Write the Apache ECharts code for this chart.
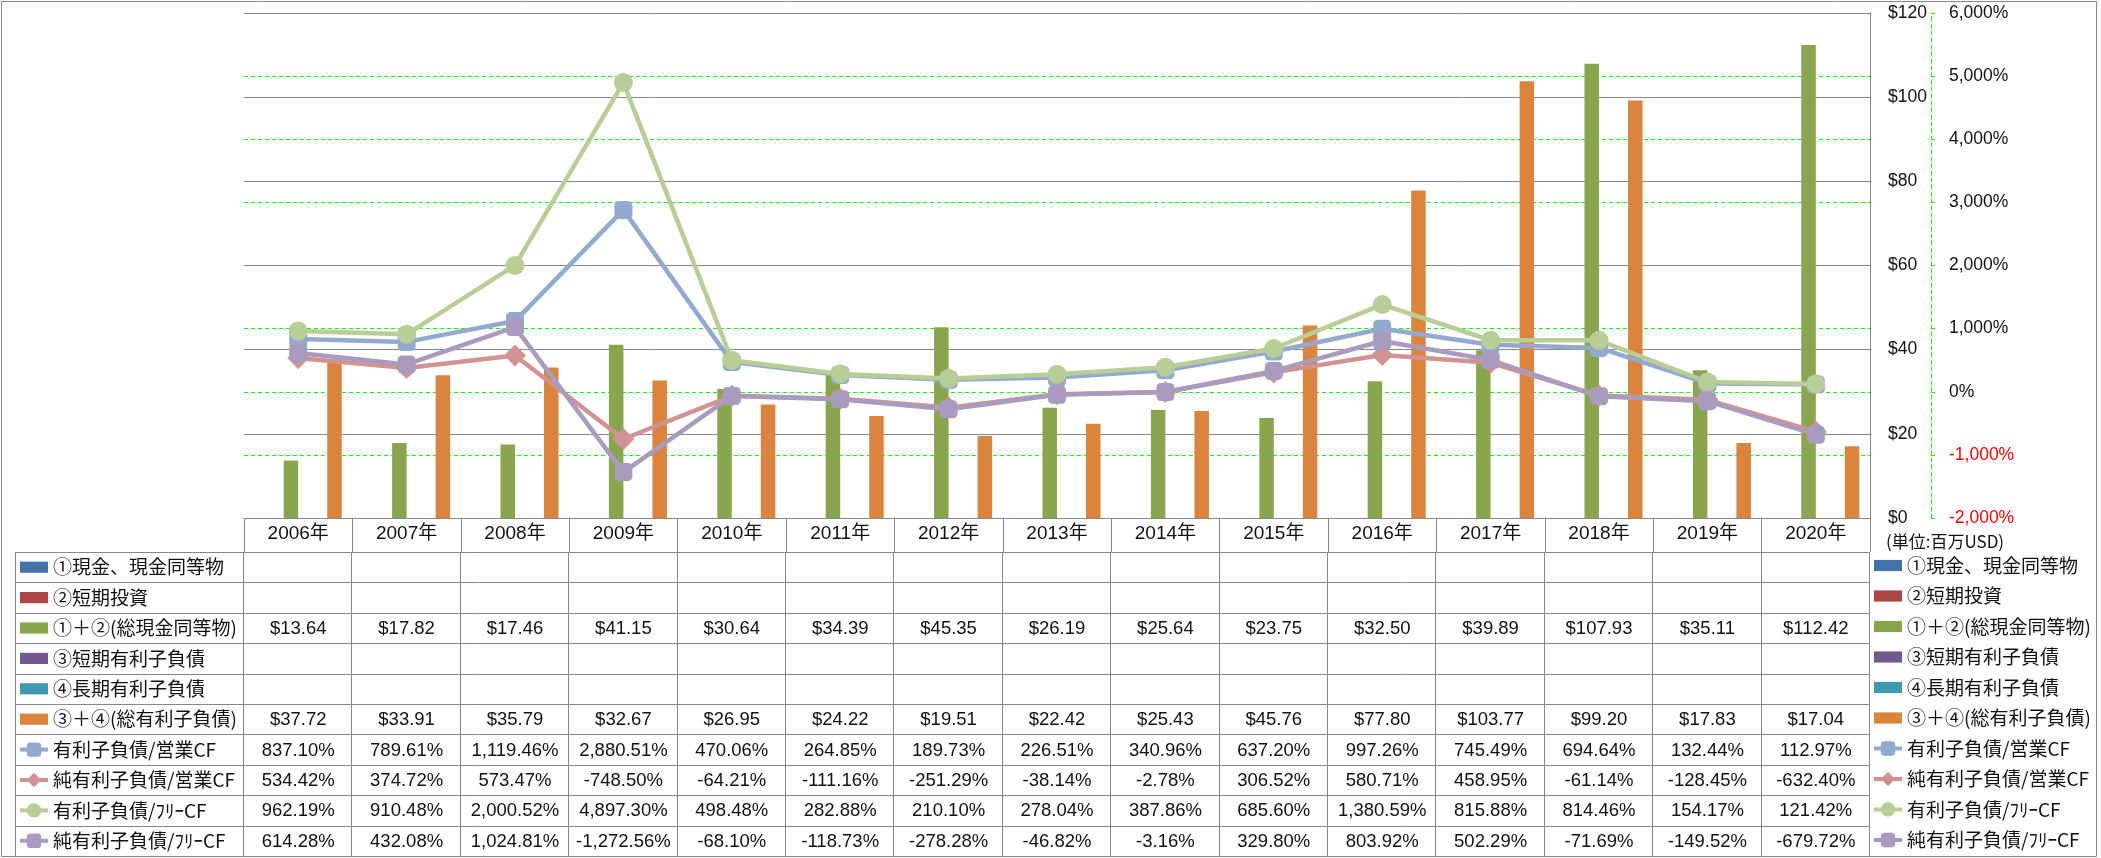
<!DOCTYPE html>
<html><head><meta charset="utf-8">
<script src="https://cdn.jsdelivr.net/npm/echarts@6/dist/echarts.min.js"></script>
<style>html,body{margin:0;padding:0;background:#fff}#c{width:2101px;height:858px}</style>
</head><body><div id="c"></div>
<script>
// ---------- data ----------
const years = ['2006年','2007年','2008年','2009年','2010年','2011年','2012年','2013年','2014年','2015年','2016年','2017年','2018年','2019年','2020年'];
const cashEquiv = [];      // ① no values shown
const shortInvest = [];    // ② no values shown
const totalCash = [13.64,17.82,17.46,41.15,30.64,34.39,45.35,26.19,25.64,23.75,32.50,39.89,107.93,35.11,112.42];
const shortDebt = [];      // ③ no values shown
const longDebt = [];       // ④ no values shown
const totalDebt = [37.72,33.91,35.79,32.67,26.95,24.22,19.51,22.42,25.43,45.76,77.80,103.77,99.20,17.83,17.04];
const debtOpCF = [837.10,789.61,1119.46,2880.51,470.06,264.85,189.73,226.51,340.96,637.20,997.26,745.49,694.64,132.44,112.97];
const netDebtOpCF = [534.42,374.72,573.47,-748.50,-64.21,-111.16,-251.29,-38.14,-2.78,306.52,580.71,458.95,-61.14,-128.45,-632.40];
const debtFreeCF = [962.19,910.48,2000.52,4897.30,498.48,282.88,210.10,278.04,387.86,685.60,1380.59,815.88,814.46,154.17,121.42];
const netDebtFreeCF = [614.28,432.08,1024.81,-1272.56,-68.10,-118.73,-278.28,-46.82,-3.16,329.80,803.92,502.29,-71.69,-149.52,-679.72];
const usdTicks = [0,20,40,60,80,100,120];
const pctTicks = [-2000,-1000,0,1000,2000,3000,4000,5000,6000];
const seriesNames = ['①現金、現金同等物','②短期投資','①＋②(総現金同等物)','③短期有利子負債','④長期有利子負債','③＋④(総有利子負債)','有利子負債/営業CF','純有利子負債/営業CF','有利子負債/ﾌﾘｰCF','純有利子負債/ﾌﾘｰCF'];
const unitLabel = '(単位:百万USD)';

// ---------- styles ----------
const numFont = "'Liberation Sans', 'Noto Sans CJK JP', sans-serif";
const jpFont = "'Noto Sans CJK JP', sans-serif";
const txt = '#111';
const gray = '#878787';
const barColors = ['#4572A7','#AA4643','#89A54E','#71588F','#4198AF','#DB843D'];
const lineColors = ['#93A9CF','#D19392','#B9CD96','#A99BBD'];
const lineSymbols = ['roundRect','diamond','circle','roundRect'];
const lineSymbolSizes = [18,22,19,18];

const barData = [cashEquiv, shortInvest, totalCash, shortDebt, longDebt, totalDebt];
const lineData = [debtOpCF, netDebtOpCF, debtFreeCF, netDebtFreeCF];

const fmtUsd = v => '$' + v.toFixed(2);
const fmtPct = v => v.toLocaleString('en-US',{minimumFractionDigits:2, maximumFractionDigits:2}) + '%';
const tableRows = [
  {values: cashEquiv, fmt: fmtUsd},
  {values: shortInvest, fmt: fmtUsd},
  {values: totalCash, fmt: fmtUsd},
  {values: shortDebt, fmt: fmtUsd},
  {values: longDebt, fmt: fmtUsd},
  {values: totalDebt, fmt: fmtUsd},
  {values: debtOpCF, fmt: fmtPct},
  {values: netDebtOpCF, fmt: fmtPct},
  {values: debtFreeCF, fmt: fmtPct},
  {values: netDebtFreeCF, fmt: fmtPct}
];

// yAxis 0 = percent axis (drawn first), yAxis 1 = USD axis (gridlines on top)
const series = [];
barData.forEach((d, i) => series.push({
  name: seriesNames[i], type: 'bar', yAxisIndex: 1, data: d,
  barGap: '0%', barCategoryGap: '19.7%',
  itemStyle: {color: barColors[i]}
}));
lineData.forEach((d, i) => series.push({
  name: seriesNames[6 + i], type: 'line', yAxisIndex: 0, data: d,
  symbol: lineSymbols[i], symbolSize: lineSymbolSizes[i], showSymbol: true,
  lineStyle: {width: 4.5, color: lineColors[i]},
  itemStyle: {color: lineColors[i]}
}));

const legendData = seriesNames.map((n, i) => i < 6 ? {name: n, icon: 'path://M0,0L25,0L25,10L0,10Z'} : {name: n});
const legendBase = {
  orient: 'vertical', padding: 0, itemWidth: 28, itemHeight: 18, selectedMode: false,
  textStyle: {fontFamily: jpFont, fontSize: 19, lineHeight: 20, color: txt},
  lineStyle: {width: 4},
  data: legendData
};

const option = {
  animation: false,
  backgroundColor: '#fff',
  grid: {left: 244, right: 231, top: 13, bottom: 340, containLabel: false},
  legend: [
    Object.assign({}, legendBase, {left: 18, top: 557.2, itemGap: 10.4}),
    Object.assign({}, legendBase, {left: 1872, top: 555.5, itemGap: 10.5})
  ],
  xAxis: {
    type: 'category', data: years, boundaryGap: true, position: 'bottom',
    axisLine: {show: true, onZero: false, lineStyle: {color: gray, width: 1}},
    axisTick: {show: true, interval: 0, length: 34, inside: false, lineStyle: {color: gray, width: 1}},
    axisLabel: {interval: 0, margin: 6, fontFamily: numFont, fontSize: 19, color: txt}
  },
  yAxis: [
    {
      type: 'value', position: 'right', offset: 61,
      min: pctTicks[0], max: pctTicks[pctTicks.length - 1], interval: pctTicks[1] - pctTicks[0],
      axisLine: {show: true, lineStyle: {color: '#00FF00', width: 1, type: [4, 3]}},
      axisTick: {show: true, length: 4, inside: false, lineStyle: {color: '#00FF00', width: 1}},
      axisLabel: {margin: 18, fontFamily: numFont, fontSize: 17.5,
        color: v => (Number(v) < 0 ? '#FF0000' : txt),
        formatter: v => v.toLocaleString('en-US') + '%'},
      splitLine: {show: true, showMinLine: false, showMaxLine: false, lineStyle: {color: '#00FF00', width: 1, type: [4, 3]}}
    },
    {
      type: 'value', position: 'right', offset: 0,
      min: usdTicks[0], max: usdTicks[usdTicks.length - 1], interval: usdTicks[1] - usdTicks[0],
      axisLine: {show: true, lineStyle: {color: gray, width: 1}},
      axisTick: {show: false},
      axisLabel: {margin: 18, fontFamily: numFont, fontSize: 17.5, color: txt, formatter: v => '$' + v},
      splitLine: {show: true, lineStyle: {color: gray, width: 1}}
    }
  ],
  series: series
};

const chart = echarts.init(document.getElementById('c'), null, {renderer: 'canvas'});
chart.setOption(option);

// ---------- data table under the axis (positions from the category axis) ----------
const centers = years.map(y => chart.convertToPixel({xAxisIndex: 0}, y));
const band = centers[1] - centers[0];
const bounds = [];
for (let i = 0; i <= years.length; i++) bounds.push(centers[0] - band / 2 + i * band);
const rowTop = 552, rowH = 30.4, tableLeft = 16;
const tableRight = bounds[bounds.length - 1];
const crisp = v => Math.round(v) + 0.5;
const g = [];
for (let k = 0; k <= tableRows.length; k++) {
  const y = crisp(rowTop + k * rowH);
  g.push({type: 'line', silent: true, shape: {x1: tableLeft, y1: y, x2: tableRight, y2: y}, style: {stroke: gray, lineWidth: 1}});
}
[tableLeft].concat(bounds).forEach(x => {
  const xx = crisp(x) - 1;
  g.push({type: 'line', silent: true, shape: {x1: xx, y1: rowTop, x2: xx, y2: rowTop + tableRows.length * rowH}, style: {stroke: gray, lineWidth: 1}});
});
tableRows.forEach((row, r) => {
  row.values.forEach((v, i) => {
    if (v === null || v === undefined) return;
    g.push({type: 'text', silent: true, x: centers[i], y: rowTop + (r + 0.5) * rowH + 1,
      style: {text: row.fmt(v), font: "18.5px " + numFont, fill: txt, align: 'center', verticalAlign: 'middle'}});
  });
});
g.push({type: 'text', silent: true, x: 1886, y: 542,
  style: {text: unitLabel, font: "17px " + jpFont, fill: txt, align: 'left', verticalAlign: 'middle'}});
g.push({type: 'rect', silent: true, shape: {x: 1.5, y: 1.5, width: 2095, height: 855}, style: {fill: null, stroke: gray, lineWidth: 1}});
chart.setOption({graphic: g});
</script>
</body></html>
